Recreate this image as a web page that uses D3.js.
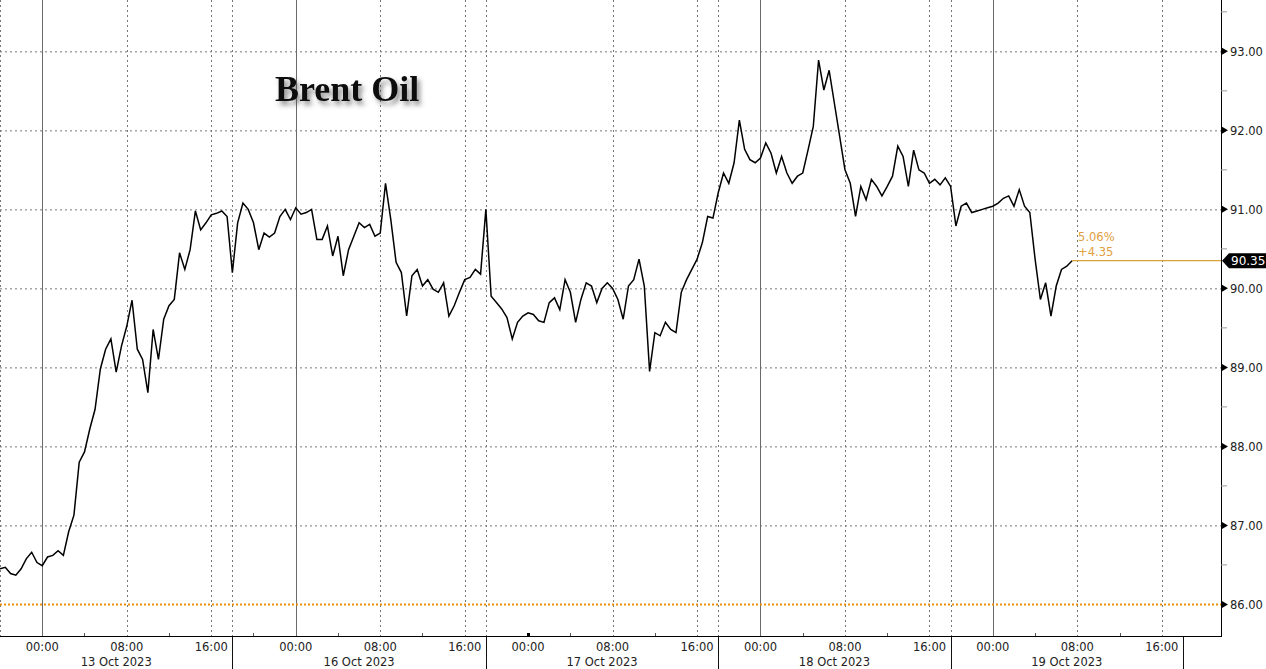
<!DOCTYPE html>
<html>
<head>
<meta charset="utf-8">
<script src="https://cdn.jsdelivr.net/npm/d3@7"></script>
<style>
  body { margin: 0; background: #fff; }
  text { font-family: "DejaVu Sans", sans-serif; }
</style>
</head>
<body>
<script>
// trading sessions (New York time) and the trade date each one belongs to
const sessionStarts = ["2023-10-12T20:00", "2023-10-15T18:00", "2023-10-16T20:00", "2023-10-17T20:00", "2023-10-18T20:00", "2023-10-19T20:00"];
const sessionEnds   = ["2023-10-13T18:00", "2023-10-16T18:00", "2023-10-17T18:00", "2023-10-18T18:00", "2023-10-19T18:00", "2023-10-20T18:00"];
const sessionDates  = ["13 Oct 2023", "16 Oct 2023", "17 Oct 2023", "18 Oct 2023", "19 Oct 2023", ""];
const axisEnd = "2023-10-19T23:36";
// midnight with no grid line drawn (only a heavy tick on the axis)
const hiddenGrid = ["2023-10-17T00:00"];

// Brent front month, one price every 30 trading minutes from the first session start
const stepMinutes = 30;
const brent = [
  86.45, 86.47, 86.39, 86.37, 86.45, 86.58, 86.66, 86.53, 86.49, 86.60,
  86.62, 86.68, 86.62, 86.92, 87.13, 87.80, 87.93, 88.22, 88.47, 88.98,
  89.23, 89.36, 88.94, 89.27, 89.52, 89.85, 89.23, 89.10, 88.68, 89.48,
  89.10, 89.61, 89.78, 89.86, 90.45, 90.24, 90.49, 90.98, 90.74, 90.83,
  90.93, 90.95, 90.98, 90.91, 90.20, 90.83, 91.08, 91.00, 90.83, 90.49,
  90.70, 90.65, 90.70, 90.91, 91.00, 90.87, 91.02, 90.94, 90.96, 91.00,
  90.62, 90.62, 90.79, 90.41, 90.66, 90.16, 90.49, 90.66, 90.83, 90.77,
  90.81, 90.66, 90.70, 91.33, 90.87, 90.33, 90.20, 89.65, 90.16, 90.24,
  90.03, 90.11, 89.99, 89.95, 90.07, 89.65, 89.78, 89.95, 90.11, 90.14,
  90.24, 90.18, 91.00, 89.90, 89.82, 89.74, 89.63, 89.36, 89.57, 89.65,
  89.69, 89.67, 89.59, 89.57, 89.82, 89.88, 89.73, 90.11, 89.95, 89.57,
  89.86, 90.07, 90.03, 89.82, 90.00, 90.07, 90.00, 89.86, 89.61, 90.03,
  90.11, 90.37, 90.03, 88.95, 89.44, 89.40, 89.57, 89.48, 89.44, 89.95,
  90.11, 90.24, 90.37, 90.58, 90.91, 90.89, 91.21, 91.46, 91.33, 91.59,
  92.13, 91.76, 91.63, 91.59, 91.65, 91.84, 91.71, 91.46, 91.67, 91.46,
  91.33, 91.42, 91.46, 91.75, 92.05, 92.89, 92.51, 92.76, 92.34, 91.92,
  91.50, 91.33, 90.91, 91.29, 91.12, 91.38, 91.29, 91.17, 91.29, 91.42,
  91.80, 91.67, 91.29, 91.75, 91.50, 91.46, 91.33, 91.38, 91.31, 91.40,
  91.29, 90.79, 91.04, 91.08, 90.96, 90.98, 91.00, 91.02, 91.04, 91.08,
  91.14, 91.17, 91.04, 91.25, 91.04, 90.96, 90.37, 89.86, 90.07, 89.65,
  90.03, 90.24, 90.28, 90.35
];

const priceTicks = [86, 87, 88, 89, 90, 91, 92, 93];
const priceMinor = [86.5, 87.5, 88.5, 89.5, 90.5, 91.5, 92.5, 93.5];
const labelHours = [0, 8, 16];
const minorHours = [4, 12, 20];
const baseLevel = 86.00;   // reference (start) level, orange dotted line
const title = "Brent Oil";

const W = 1266, H = 669;
const plotR = 1221, plotB = 636;

let svg = d3.select("body").append("svg")
    .attr("width", W)
    .attr("height", H)
    .style("display", "block");

let parse = d3.timeParse("%Y-%m-%dT%H:%M");

// sessions laid end to end, non-trading time removed
let sessions = sessionStarts.map((s, i) => ({start: parse(s), end: parse(sessionEnds[i]), label: sessionDates[i]}));
let acc = 0;
sessions.forEach(s => {
    s.offset = acc;
    acc += (s.end - s.start) / 36e5;
});
let tradingHours = function (t) {
    for (let s of sessions) {
        if (t >= s.start && t <= s.end) return s.offset + (t - s.start) / 36e5;
    }
    return null;
};

let x = d3.scaleLinear().domain([0, tradingHours(parse(axisEnd))]).range([0, plotR]);
let y = d3.scaleLinear().domain([85.6, 93.65]).range([plotB, 0]);

let defs = svg.append("defs");
let shadow = defs.append("filter").attr("id", "shadow")
    .attr("x", "-10%").attr("y", "-30%").attr("width", "130%").attr("height", "180%");
shadow.append("feDropShadow")
    .attr("dx", 3).attr("dy", 4).attr("stdDeviation", 2.8)
    .attr("flood-color", "#444").attr("flood-opacity", 0.6);

let grid = svg.append("g").attr("class", "grid");

// horizontal grid
grid.selectAll("line.h")
    .data(priceTicks.filter(v => v !== baseLevel))
    .enter().append("line")
    .attr("x1", 0).attr("x2", plotR)
    .attr("y1", d => y(d) + 0.5).attr("y2", d => y(d) + 0.5)
    .attr("stroke", "#777")
    .attr("stroke-dasharray", "2,3");

// hour ticks inside each session
let hourMarks = [];
sessions.forEach(s => {
    d3.timeHour.range(s.start, new Date(+s.end + 1)).forEach(t => {
        let th = tradingHours(t);
        if (th > x.domain()[1]) return;
        let h = t.getHours();
        if (labelHours.includes(h) && s.label) hourMarks.push({t, th, h, major: true});
        else if (minorHours.includes(h) && +t !== +s.start) hourMarks.push({t, th, h, major: false});
    });
});

let majors = hourMarks.filter(d => d.major);
let hidden = hiddenGrid.map(s => +parse(s));

grid.selectAll("line.v")
    .data(majors.filter(d => !hidden.includes(+d.t)))
    .enter().append("line")
    .attr("x1", d => Math.round(x(d.th)) + 0.5).attr("x2", d => Math.round(x(d.th)) + 0.5)
    .attr("y1", 0).attr("y2", plotB)
    .attr("stroke", d => d.h === 0 ? "#6a6a6a" : "#777")
    .attr("stroke-dasharray", d => d.h === 0 ? null : "2,3");

// session separators: dotted in the plot, solid through the date row
let seps = sessions.map(s => s.offset);
grid.selectAll("line.sep")
    .data(seps.slice(0, -1))
    .enter().append("line")
    .attr("x1", d => Math.round(x(d)) + 0.5).attr("x2", d => Math.round(x(d)) + 0.5)
    .attr("y1", 0).attr("y2", plotB)
    .attr("stroke", "#777")
    .attr("stroke-dasharray", "2,3");
grid.selectAll("line.sepAxis")
    .data(seps.slice(1))
    .enter().append("line")
    .attr("x1", d => Math.round(x(d)) + 0.5).attr("x2", d => Math.round(x(d)) + 0.5)
    .attr("y1", plotB).attr("y2", H)
    .attr("stroke", "#111");

// base level
svg.append("line")
    .attr("x1", 0).attr("x2", plotR)
    .attr("y1", y(baseLevel)).attr("y2", y(baseLevel))
    .attr("stroke", "#ec8f0c")
    .attr("stroke-width", 2)
    .attr("stroke-dasharray", "2,2");

// title
svg.append("text")
    .attr("x", 275).attr("y", 101)
    .attr("filter", "url(#shadow)")
    .style("font-family", "'Liberation Serif', 'DejaVu Serif', serif")
    .style("font-weight", "bold")
    .style("font-size", "36px")
    .attr("fill", "#0a0a0a")
    .text(title);

// price line
let line = d3.line()
    .x((d, i) => x(i * stepMinutes / 60))
    .y(d => y(d));
svg.append("path")
    .datum(brent)
    .attr("d", line)
    .attr("fill", "none")
    .attr("stroke", "#000")
    .attr("stroke-width", 1.5)
    .attr("stroke-linejoin", "miter");

// last value marker line and change annotation
let lastIdx = brent.length - 1;
let last = brent[lastIdx];
let lastX = x(lastIdx * stepMinutes / 60);
let chg = last - baseLevel;
let pct = chg / baseLevel * 100;
svg.append("line")
    .attr("x1", lastX).attr("x2", plotR)
    .attr("y1", y(last)).attr("y2", y(last))
    .attr("stroke", "#d6a235")
    .attr("stroke-width", 1.2);
svg.append("text")
    .attr("x", lastX + 6).attr("y", y(last) - 20)
    .attr("fill", "#e0a040")
    .style("font-size", "11.5px")
    .text(d3.format(".2f")(pct) + "%");
svg.append("text")
    .attr("x", lastX + 6).attr("y", y(last) - 5)
    .attr("fill", "#e0a040")
    .style("font-size", "11.5px")
    .text((chg >= 0 ? "+" : "") + d3.format(".2f")(chg));

// right axis
let ax = svg.append("g").attr("class", "y-axis");
ax.append("line")
    .attr("x1", plotR + 0.5).attr("x2", plotR + 0.5)
    .attr("y1", 0).attr("y2", plotB)
    .attr("stroke", "#000");
ax.selectAll("path.tri")
    .data(priceTicks)
    .enter().append("path")
    .attr("d", d => `M${plotR + 1},${y(d) - 3.5}L${plotR + 7},${y(d)}L${plotR + 1},${y(d) + 3.5}Z`)
    .attr("fill", "#000");
ax.selectAll("line.minor")
    .data(priceMinor)
    .enter().append("line")
    .attr("x1", plotR).attr("x2", plotR + 6)
    .attr("y1", d => y(d)).attr("y2", d => y(d))
    .attr("stroke", "#999");
ax.selectAll("text")
    .data(priceTicks)
    .enter().append("text")
    .attr("x", plotR + 9)
    .attr("y", d => y(d) + 4.5)
    .attr("fill", "#222")
    .style("font-size", "11.5px")
    .text(d => d3.format(".2f")(d));

// last price tag
let ly = y(last);
ax.append("path")
    .attr("d", `M${plotR + 1},${ly}L${plotR + 8},${ly - 7.5}H${W}V${ly + 7.5}H${plotR + 8}Z`)
    .attr("fill", "#000");
ax.append("text")
    .attr("x", plotR + 10)
    .attr("y", ly + 4.5)
    .attr("fill", "#fff")
    .style("font-size", "12px")
    .text(d3.format(".2f")(last));

// bottom axis
let bx = svg.append("g").attr("class", "x-axis");
bx.append("line")
    .attr("x1", 0).attr("x2", plotR + 1)
    .attr("y1", plotB + 0.5).attr("y2", plotB + 0.5)
    .attr("stroke", "#000");
bx.selectAll("line.minor")
    .data(hourMarks.filter(d => !d.major))
    .enter().append("line")
    .attr("x1", d => Math.round(x(d.th)) + 0.5).attr("x2", d => Math.round(x(d.th)) + 0.5)
    .attr("y1", plotB - 3).attr("y2", plotB)
    .attr("stroke", "#555");
bx.selectAll("rect.heavy")
    .data(majors.filter(d => hidden.includes(+d.t)))
    .enter().append("rect")
    .attr("x", d => Math.round(x(d.th)) - 1)
    .attr("y", plotB - 3)
    .attr("width", 3).attr("height", 4)
    .attr("fill", "#000");
bx.selectAll("text.hour")
    .data(majors)
    .enter().append("text")
    .attr("x", d => x(d.th))
    .attr("y", plotB + 15)
    .attr("text-anchor", "middle")
    .attr("fill", "#222")
    .style("font-size", "11.5px")
    .text(d => d3.timeFormat("%H:%M")(d.t));
bx.selectAll("text.day")
    .data(sessions.filter(s => s.label))
    .enter().append("text")
    .attr("x", d => x(d.offset + (d.end - d.start) / 72e5))
    .attr("y", plotB + 30)
    .attr("text-anchor", "middle")
    .attr("fill", "#222")
    .style("font-size", "11.5px")
    .text(d => d.label);
</script>
</body>
</html>
